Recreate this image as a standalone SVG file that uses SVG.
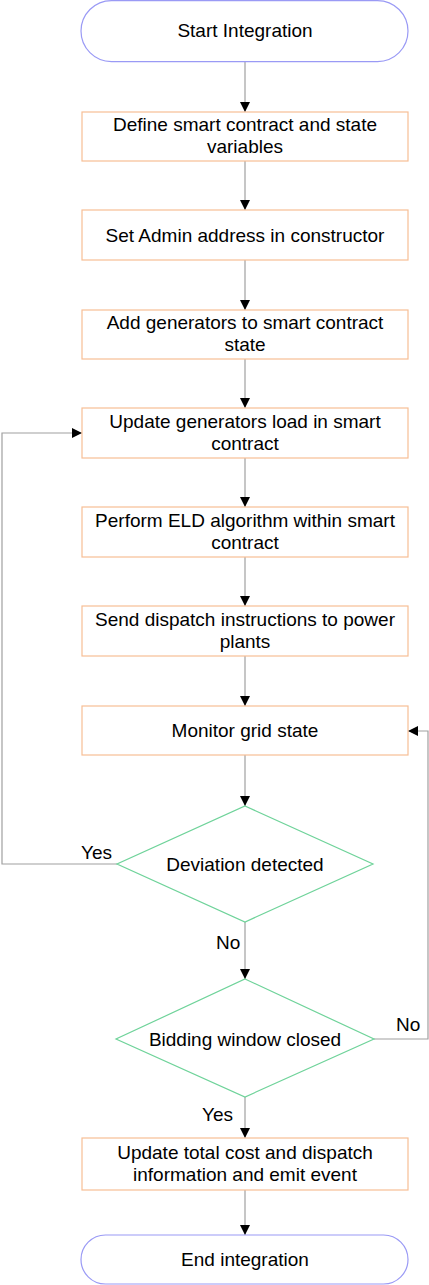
<svg xmlns="http://www.w3.org/2000/svg" width="429" height="1285" viewBox="0 0 429 1285">
<style>
text{font-family:"Liberation Sans",Arial,sans-serif;font-size:19px;fill:#000;text-anchor:middle}
.term{fill:#fff;stroke:#9a9af5;stroke-width:1.2}
.proc{fill:#fff;stroke:#f7be95;stroke-width:1.2}
.dec{fill:#fff;stroke:#6fd39a;stroke-width:1.2}
.c{fill:none;stroke:#a0a0a0;stroke-width:1.2;marker-end:url(#ah)}
.lbl{text-anchor:start}
</style>
<defs>
<marker id="ah" viewBox="0 0 10 10" refX="10" refY="5" markerWidth="10" markerHeight="10" markerUnits="userSpaceOnUse" orient="auto">
<path d="M0,0 L10,5 L0,10 z" fill="#000"/>
</marker>
</defs>
<g id="connectors">
<path class="c" d="M245,62 V112"/>
<path class="c" d="M245,161 V210"/>
<path class="c" d="M245,260 V310"/>
<path class="c" d="M245,359 V408"/>
<path class="c" d="M245,458 V507"/>
<path class="c" d="M245,557 V606"/>
<path class="c" d="M245,656 V706"/>
<path class="c" d="M245,755 V806"/>
<path class="c" d="M245,922 V979"/>
<path class="c" d="M245,1097 V1138"/>
<path class="c" d="M245,1190 V1235"/>
<path class="c" d="M117,864 H2 V433 H82"/>
<path class="c" d="M374,1039 H428 V731 H408"/>
<text class="lbl" x="81" y="859">Yes</text>
<text class="lbl" x="216" y="949">No</text>
<text class="lbl" x="396" y="1031">No</text>
<text class="lbl" x="202" y="1121">Yes</text>
</g>
<g id="start"><rect class="term" x="81" y="0.6" width="327" height="61" rx="30.5"/><text x="245" y="37">Start Integration</text></g>
<g id="define"><rect class="proc" x="82" y="112" width="326" height="49"/><text x="245" y="131">Define smart contract and state</text><text x="245" y="153">variables</text></g>
<g id="admin"><rect class="proc" x="82" y="210" width="326" height="50"/><text x="245" y="242">Set Admin address in constructor</text></g>
<g id="addgen"><rect class="proc" x="82" y="310" width="326" height="49"/><text x="245" y="329">Add generators to smart contract</text><text x="245" y="351">state</text></g>
<g id="updgen"><rect class="proc" x="82" y="408" width="326" height="50"/><text x="245" y="428">Update generators load in smart</text><text x="245" y="450">contract</text></g>
<g id="eld"><rect class="proc" x="82" y="507" width="326" height="50"/><text x="245" y="527">Perform ELD algorithm within smart</text><text x="245" y="549">contract</text></g>
<g id="dispatch"><rect class="proc" x="82" y="606" width="326" height="50"/><text x="245" y="626">Send dispatch instructions to power</text><text x="245" y="648">plants</text></g>
<g id="monitor"><rect class="proc" x="82" y="706" width="326" height="49"/><text x="245" y="737">Monitor grid state</text></g>
<g id="deviation"><polygon class="dec" points="245,806 373,864 245,922 117,864"/><text x="245" y="871">Deviation detected</text></g>
<g id="bidding"><polygon class="dec" points="245,979 374,1039 245,1097 116,1039"/><text x="245" y="1046">Bidding window closed</text></g>
<g id="total"><rect class="proc" x="82" y="1138" width="326" height="52"/><text x="245" y="1159">Update total cost and dispatch</text><text x="245" y="1181">information and emit event</text></g>
<g id="end"><rect class="term" x="81" y="1235" width="327" height="49" rx="24.5"/><text x="245" y="1266">End integration</text></g>
</svg>
